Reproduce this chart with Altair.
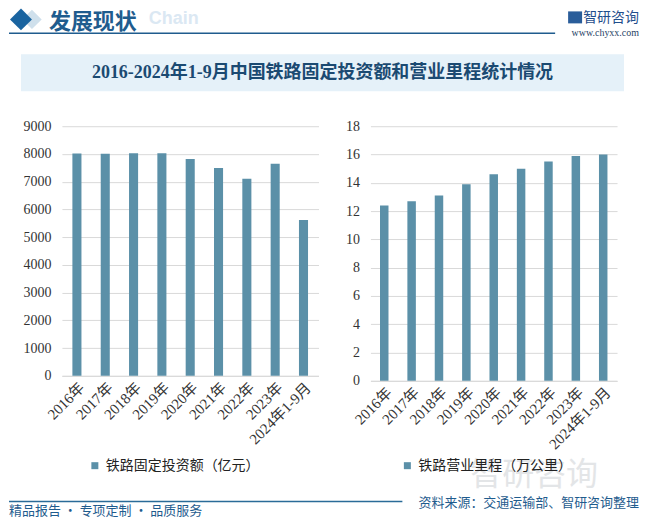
import altair as alt
import pandas as pd

# ---------------- data ----------------
years = ["2016年", "2017年", "2018年", "2019年", "2020年", "2021年", "2022年", "2023年", "2024年1-9月"]
investment = [8015, 8010, 8028, 8029, 7819, 7489, 7109, 7645, 5614]
mileage = [12.4, 12.7, 13.1, 13.9, 14.6, 15.0, 15.5, 15.9, 16.0]
inv_name = "铁路固定投资额（亿元）"
mil_name = "铁路营业里程（万公里）"
inv_ticks = [0, 1000, 2000, 3000, 4000, 5000, 6000, 7000, 8000, 9000]
mil_ticks = [0, 2, 4, 6, 8, 10, 12, 14, 16, 18]

title_text = "2016-2024年1-9月中国铁路固定投资额和营业里程统计情况"
header_text = "发展现状"
header_en = "Chain"
logo_text = "智研咨询"
site_text = "www.chyxx.com"
source_text = "资料来源：交通运输部、智研咨询整理"
slogan_text = "精品报告 · 专项定制 · 品质服务"

# ---------------- style ----------------
BAR = "#5b90a8"
DARK = "#1f5c8e"
SERIF = "Liberation Serif, Noto Sans CJK SC"
SANS = "Noto Sans CJK SC"

df_inv = pd.DataFrame({"year": years, "value": investment, "series": [inv_name] * len(years)})
df_mil = pd.DataFrame({"year": years, "value": mileage, "series": [mil_name] * len(years)})

one = alt.Data(values=[{"a": 1}])


def txt(s, x, y, size, color, align="left", weight="normal", font=SANS, opacity=1.0):
    return alt.Chart(one).mark_text(
        text=s, align=align, baseline="middle", fontSize=size, fontWeight=weight,
        font=font, color=color, opacity=opacity
    ).encode(x=alt.value(x), y=alt.value(y))


def bars(df, ticks, w, h, pin, pout, legx, legy):
    return alt.Chart(df).mark_bar().encode(
        x=alt.X("year:N", sort=years,
                scale=alt.Scale(paddingInner=pin, paddingOuter=pout),
                axis=alt.Axis(title=None, labelAngle=-45, labelFont=SERIF, labelFontSize=15,
                              labelColor="#333333", ticks=False, domainColor="#d9d9d9",
                              labelPadding=4)),
        y=alt.Y("value:Q", scale=alt.Scale(domain=[ticks[0], ticks[-1]], nice=False),
                axis=alt.Axis(title=None, values=ticks, format="d", domain=False, ticks=False,
                              gridColor="#d9d9d9", labelFont=SERIF, labelFontSize=14,
                              labelPadding=11, labelColor="#333333")),
        color=alt.Color("series:N", scale=alt.Scale(range=[BAR]),
                        legend=alt.Legend(title=None, orient="none", legendX=legx, legendY=legy,
                                          symbolType="square", symbolSize=49, symbolStrokeWidth=0,
                                          labelFont=SANS, labelFontSize=14, labelColor="#222222",
                                          labelLimit=300, labelOffset=4)),
    ).properties(width=w, height=h)


# left panel origin is at page (61,126)
left_bars = bars(df_inv, inv_ticks, 257, 250, 0.68, 0.37, 26, 333)

bounds_rect = alt.Chart(one).mark_rect(opacity=0).encode(
    x=alt.value(-53), x2=alt.value(578), y=alt.value(-118), y2=alt.value(392))

light_diamond = alt.Chart(one).mark_point(shape="diamond", filled=True, size=380, color="#cfe0ec", opacity=1).encode(
    x=alt.value(-30), y=alt.value(-107))
diamond = alt.Chart(one).mark_point(shape="diamond", filled=True, size=484, color="#1a64a0", opacity=1).encode(
    x=alt.value(-41), y=alt.value(-107))

header_line = alt.Chart(one).mark_rule(color=DARK, strokeWidth=1.5).encode(
    x=alt.value(-53), x2=alt.value(494), y=alt.value(-93))

logo_icon = alt.Chart(one).mark_rect(color="#2a5d9a").encode(
    x=alt.value(507), x2=alt.value(521), y=alt.value(-115), y2=alt.value(-103))

title_box = alt.Chart(one).mark_rect(color="#e5f1f9").encode(
    x=alt.value(-41), x2=alt.value(563), y=alt.value(-72), y2=alt.value(-35))

footer_line = alt.Chart(one).mark_rule(color="#2a6b98", strokeWidth=1.5).encode(
    x=alt.value(-53), x2=alt.value(341), y=alt.value(376))

left = alt.layer(
    bounds_rect,
    light_diamond,
    diamond,
    txt(header_en, 87, -107, 18, "#dbe8f3", weight="bold", font="Liberation Sans, Arial"),
    txt(header_text, -13, -104, 22, DARK, weight="bold"),
    header_line,
    logo_icon,
    txt(logo_text, 578, -108, 14, "#1f4e8c", align="right"),
    txt(site_text, 578, -93, 10, "#1f3f66", align="right", font="Liberation Serif"),
    title_box,
    txt(title_text, 261, -53, 18, "#1b4a72", align="center", weight="bold", font=SERIF),
    footer_line,
    txt(slogan_text, -53, 385, 13, DARK),
    txt(source_text, 578, 377, 13, DARK, align="right"),
    left_bars,
)

# right panel origin at page (370,126)
right_bars = bars(df_mil, mil_ticks, 247, 255, 0.69, 0.35, 30, 333)
right = alt.layer(
    txt(logo_text, 100, 349, 32, "#c9cdd1", opacity=0.5),
    right_bars,
)

chart = alt.hconcat(left, right, spacing=52, bounds="flush").resolve_scale(
    color="independent", y="independent", x="independent"
).resolve_legend(color="independent").properties(
    padding=0, background="white"
).configure_view(stroke=None)

chart.save("out.html", embed_options={"renderer": "svg", "actions": False})
